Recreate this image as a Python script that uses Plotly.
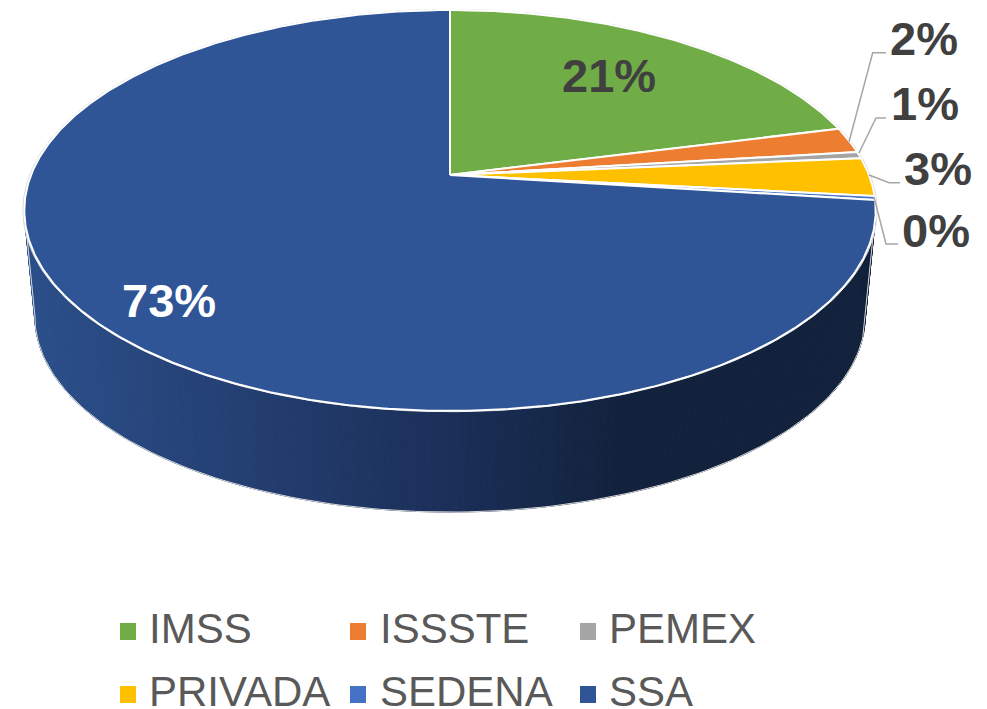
import math
import plotly.graph_objects as go

# ---- data ----
categories = ["IMSS", "ISSSTE", "PEMEX", "PRIVADA", "SEDENA", "SSA"]
values = [21.0, 2.08, 0.52, 3.1, 0.3, 73.0]
label_texts = ["21%", "2%", "1%", "3%", "0%", "73%"]

# ---- style ----
colors = ["#70AD47", "#ED7D31", "#A5A5A5", "#FFC000", "#4472C4", "#2F5597"]
W, H = 987, 709
CX, APEX_Y = 450, 175
A, B, K = 194.2, 419.0, 0.177      # perspective of the disc
SIDE_DY, SIDE_SCALE = 107, 0.975
total = sum(values)


def project(deg, scale=1.0, dy=0.0):
    t = math.radians(deg)
    X, Y = math.sin(t), math.cos(t)
    d = 1 + K * Y
    return CX + scale * B * X / d, APEX_Y + dy - scale * A * Y / d


def hex_rgb(h):
    return [int(h[i:i + 2], 16) for i in (1, 3, 5)]


grad = [(30, "#2B4F8A"), (240, "#243F72"), (450, "#1B2F58"), (620, "#12223D"), (880, "#12223D")]


def side_color(x):
    for (x0, c0), (x1, c1) in zip(grad, grad[1:]):
        if x <= x1:
            f = max(0, (x - x0) / (x1 - x0))
            a, b = hex_rgb(c0), hex_rgb(c1)
            return "rgb(%d,%d,%d)" % tuple(round(p + (q - p) * f) for p, q in zip(a, b))
    return grad[-1][1]


fig = go.Figure()

# side wall: narrow strips whose colour follows the horizontal gradient
for d in range(80, 280):
    xs, ys = [], []
    for ang, sc, dy in [(d, 1, 0), (d + 1, 1, 0), (d + 1, SIDE_SCALE, SIDE_DY), (d, SIDE_SCALE, SIDE_DY)]:
        x, y = project(ang, sc, dy)
        xs.append(x)
        ys.append(y)
    c = side_color(sum(xs) / 4)
    fig.add_trace(go.Scatter(x=xs + xs[:1], y=ys + ys[:1], mode="lines", fill="toself", fillcolor=c,
                             line=dict(color=c, width=1), hoverinfo="skip", showlegend=False))

# thin pale outline around the wall and the upper rim
rim = [project(100)] + [project(d, SIDE_SCALE, SIDE_DY) for d in range(100, 261)] + [project(260)]
fig.add_trace(go.Scatter(x=[p[0] for p in rim], y=[p[1] for p in rim], mode="lines",
                         line=dict(color="#DADADA", width=1), hoverinfo="skip", showlegend=False))
halo = [project(d, 1.003) for d in range(0, 361)]
fig.add_trace(go.Scatter(x=[p[0] for p in halo], y=[p[1] for p in halo], mode="lines",
                         line=dict(color="#D5D5D5", width=1), hoverinfo="skip", showlegend=False))

# top face wedges
cum = 0.0
for name, v, col in zip(categories, values, colors):
    a0, a1 = cum / total * 360, (cum + v) / total * 360
    n = max(2, int(a1 - a0) * 2)
    pts = [project(a0 + (a1 - a0) * i / n) for i in range(n + 1)]
    xs = [CX] + [p[0] for p in pts] + [CX]
    ys = [APEX_Y] + [p[1] for p in pts] + [APEX_Y]
    fig.add_trace(go.Scatter(x=xs, y=ys, mode="lines", fill="toself", fillcolor=col, name=name,
                             line=dict(color="#FFFFFF", width=2), showlegend=False,
                             hovertemplate=name + ": %{text}<extra></extra>", text=[f"{v}%"] * len(xs)))
    cum += v

# leader lines
leaders = {
    "2%": [(886, 52.7), (872.7, 52.7), (849, 141.7)],
    "1%": [(886, 118), (876, 118), (859, 153)],
    "3%": [(900, 182.7), (889, 182.7), (869, 175)],
    "0%": [(898, 244), (886, 244), (874, 197)],
}
for pts in leaders.values():
    fig.add_trace(go.Scatter(x=[p[0] for p in pts], y=[p[1] for p in pts], mode="lines",
                             line=dict(color="#A6A6A6", width=1.5), hoverinfo="skip", showlegend=False))

annotations = []
label_pos = [(609, 75), (923.5, 38), (924.5, 103), (937.5, 168), (935.5, 230.5), (169, 300.5)]
label_col = ["#404040"] * 5 + ["#FFFFFF"]
for t, (x, y), c in zip(label_texts, label_pos, label_col):
    annotations.append(dict(x=x, y=y, xref="x", yref="y", text=f"<b>{t}</b>", showarrow=False,
                            font=dict(family="Liberation Sans", size=47, color=c)))

# legend
shapes = []
sw_x = [120, 350, 580]
tx_x = [147, 378, 607]
sw_y = [631.5, 694.5]
tx_y = [628, 691]
for i, (name, col) in enumerate(zip(categories, colors)):
    c, r = i % 3, i // 3
    shapes.append(dict(type="rect", xref="x", yref="y", x0=sw_x[c], x1=sw_x[c] + 16,
                       y0=sw_y[r] - 8.5, y1=sw_y[r] + 8.5, fillcolor=col, line=dict(width=0), layer="above"))
    annotations.append(dict(x=tx_x[c], y=tx_y[r], xref="x", yref="y", text=name, showarrow=False,
                            xanchor="left", yanchor="middle",
                            font=dict(family="Liberation Sans", size=42, color="#595959")))

fig.update_layout(
    width=W, height=H, margin=dict(l=0, r=0, t=0, b=0),
    paper_bgcolor="#FFFFFF", plot_bgcolor="#FFFFFF", showlegend=False,
    xaxis=dict(range=[0, W], visible=False, fixedrange=True),
    yaxis=dict(range=[H, 0], visible=False, fixedrange=True),
    annotations=annotations, shapes=shapes,
)

fig.write_html("out.html", config={"displayModeBar": False},
               post_script="document.body.style.margin='0';document.body.style.overflow='hidden';")
